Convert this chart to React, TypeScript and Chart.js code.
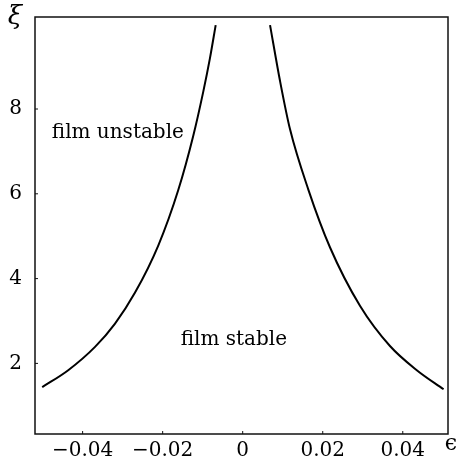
import { useEffect, useRef } from "react";
import { Chart, registerables } from "chart.js";

Chart.register(...registerables);

// Left branch of the stability boundary (epsilon < 0)
const leftEps = [-0.0501, -0.0436, -0.0369, -0.0319, -0.0269, -0.0211, -0.0161, -0.01235, -0.00985, -0.00818, -0.00675];
const leftXi = [1.44, 1.84, 2.39, 2.94, 3.67, 4.78, 6.09, 7.37, 8.41, 9.2, 9.98];

// Right branch of the stability boundary (epsilon > 0)
const rightEps = [0.00683, 0.00933, 0.01183, 0.0164, 0.0218, 0.0293, 0.0368, 0.0435, 0.0502];
const rightXi = [9.98, 8.66, 7.52, 6.1, 4.74, 3.36, 2.41, 1.84, 1.39];

const xTicks = [-0.04, -0.02, 0, 0.02, 0.04];
const xTickLabels = ["\u22120.04", "\u22120.02", "0", "0.02", "0.04"];
const yTicks = [2, 4, 6, 8];
const yTickLabels = ["2", "4", "6", "8"];

const xMin = -0.0519;
const xMax = 0.0513;
const yMin = 0.335;
const yMax = 10.17;

const regionLabels = ["film unstable", "film stable"];
const regionEps = [-0.0312, -0.0022];
const regionXi = [7.43, 2.55];

const xTitle = "\u03f5";
const yTitle = "\u03be";

const FONT = "'DejaVu Serif', 'Liberation Serif', serif";

const framePlugin = {
  id: "frame",
  afterDraw(chart: any) {
    const { ctx, chartArea } = chart;
    const { left, right, top, bottom } = chartArea;
    const xs = chart.scales.x;
    const ys = chart.scales.y;
    ctx.save();
    ctx.strokeStyle = "#111";
    ctx.lineWidth = 1.5;
    ctx.strokeRect(left, top, right - left, bottom - top);
    ctx.lineWidth = 1;
    ctx.beginPath();
    xTicks.forEach((t) => {
      const px = xs.getPixelForValue(t);
      ctx.moveTo(px, bottom);
      ctx.lineTo(px, bottom - 3);
    });
    yTicks.forEach((t) => {
      const py = ys.getPixelForValue(t);
      ctx.moveTo(left, py);
      ctx.lineTo(left + 3, py);
    });
    ctx.stroke();

    ctx.fillStyle = "#000";
    ctx.textAlign = "center";
    ctx.textBaseline = "middle";
    ctx.font = `20px ${FONT}`;
    regionLabels.forEach((lab, i) => {
      ctx.fillText(lab, xs.getPixelForValue(regionEps[i]), ys.getPixelForValue(regionXi[i]));
    });

    ctx.font = `italic 26px ${FONT}`;
    ctx.fillText(yTitle, left - 20, top);
    ctx.font = `22px ${FONT}`;
    ctx.fillText(xTitle, right + 3, bottom + 10);
    ctx.restore();
  },
};

export default function App() {
  const ref = useRef<HTMLCanvasElement | null>(null);

  useEffect(() => {
    if (!ref.current) return;
    const chart = new Chart(ref.current, {
      type: "line",
      data: {
        datasets: [
          {
            data: leftEps.map((e, i) => ({ x: e, y: leftXi[i] })),
            borderColor: "#000",
            borderWidth: 2,
            pointRadius: 0,
            cubicInterpolationMode: "monotone",
            fill: false,
          },
          {
            data: rightEps.map((e, i) => ({ x: e, y: rightXi[i] })),
            borderColor: "#000",
            borderWidth: 2,
            pointRadius: 0,
            cubicInterpolationMode: "monotone",
            fill: false,
          },
        ],
      },
      options: {
        animation: false,
        responsive: true,
        maintainAspectRatio: false,
        layout: { padding: { top: 17, right: 8, left: 0, bottom: 0 } },
        plugins: { legend: { display: false }, tooltip: { enabled: false } },
        scales: {
          x: {
            type: "linear",
            min: xMin,
            max: xMax,
            border: { display: false },
            grid: { display: false, drawTicks: false },
            afterBuildTicks: (scale: any) => {
              scale.ticks = xTicks.map((v) => ({ value: v }));
            },
            afterFit: (scale: any) => {
              scale.height = 34;
              scale.paddingLeft = 0;
              scale.paddingRight = 0;
            },
            ticks: {
              autoSkip: false,
              maxRotation: 0,
              padding: 5,
              color: "#000",
              font: { family: FONT, size: 20 },
              callback: (v: any) => {
                const i = xTicks.findIndex((t) => Math.abs(t - Number(v)) < 1e-9);
                return i >= 0 ? xTickLabels[i] : "";
              },
            },
          },
          y: {
            type: "linear",
            min: yMin,
            max: yMax,
            border: { display: false },
            grid: { display: false, drawTicks: false },
            afterBuildTicks: (scale: any) => {
              scale.ticks = yTicks.map((v) => ({ value: v }));
            },
            afterFit: (scale: any) => {
              scale.width = 35;
              scale.paddingTop = 0;
              scale.paddingBottom = 0;
            },
            ticks: {
              autoSkip: false,
              padding: 13,
              color: "#000",
              font: { family: FONT, size: 20 },
              callback: (v: any) => {
                const i = yTicks.findIndex((t) => Math.abs(t - Number(v)) < 1e-9);
                return i >= 0 ? yTickLabels[i] : "";
              },
            },
          },
        },
      },
      plugins: [framePlugin],
    } as any);
    return () => chart.destroy();
  }, []);

  return (
    <div style={{ position: "fixed", left: 0, top: 0, width: 456, height: 468, background: "#fff" }}>
      <canvas ref={ref} />
    </div>
  );
}
